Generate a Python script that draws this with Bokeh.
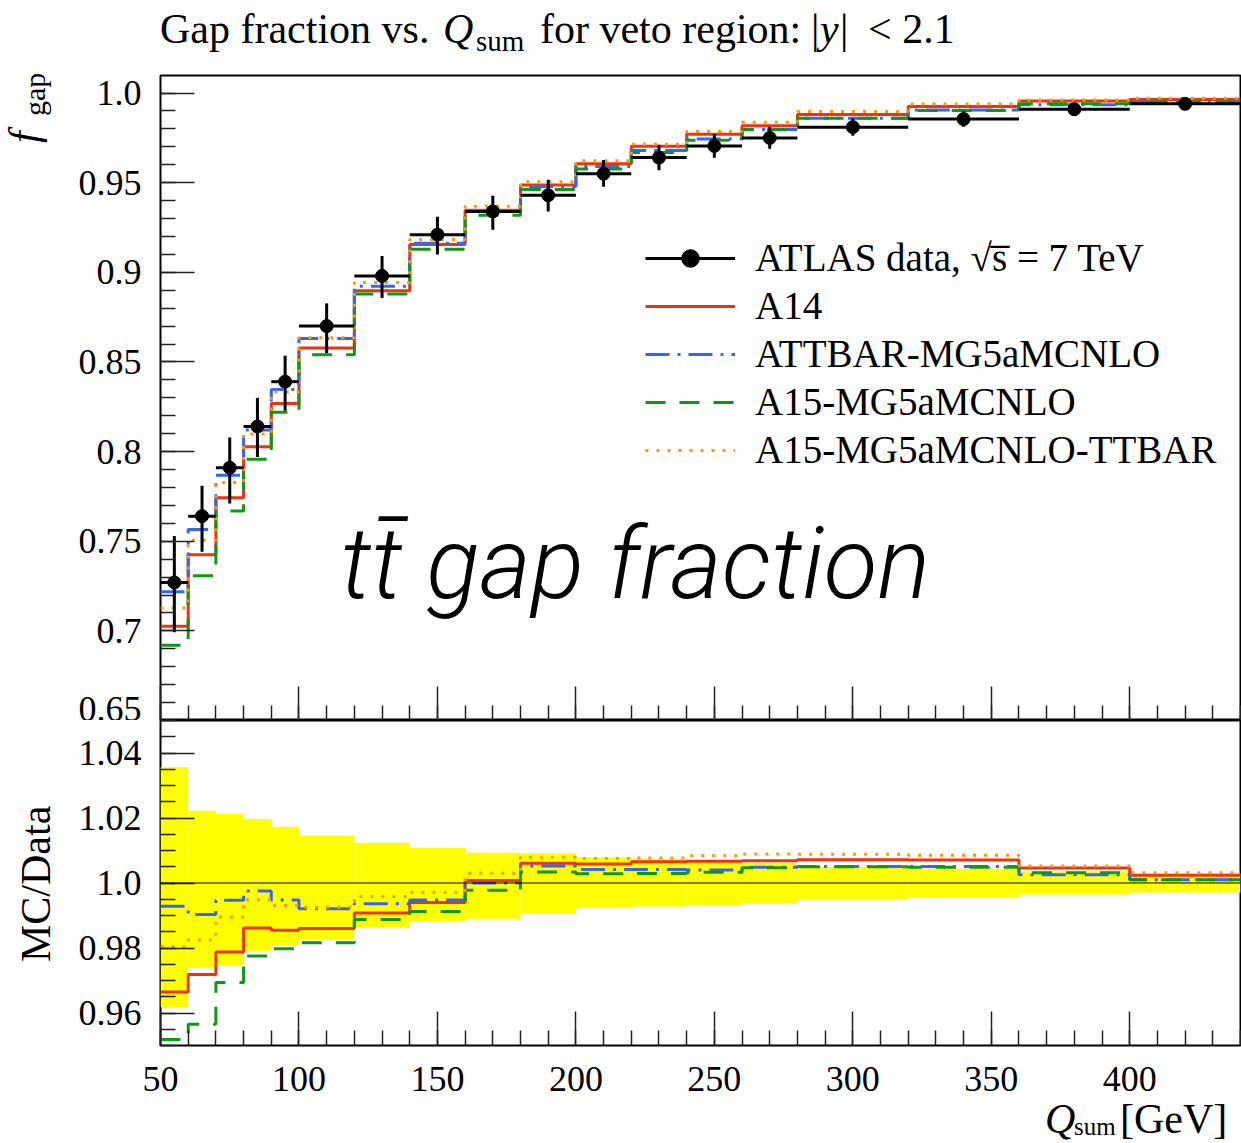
import numpy as np
from bokeh.plotting import figure
from bokeh.layouts import column, row
from bokeh.models import FixedTicker, Label, Legend, LegendItem, Span, Range1d, Div
from bokeh.embed import file_html
from bokeh.resources import INLINE

# Q_sum bin edges [GeV]
edges = [50, 60, 70, 80, 90, 100, 120, 140, 160, 180, 200, 220, 240, 260, 280, 320, 360, 400, 440]

# ATLAS 7 TeV gap fraction with asymmetric uncertainties
data_fgap = [0.727, 0.764, 0.791, 0.814, 0.839, 0.870, 0.898, 0.921, 0.934,
             0.943, 0.955, 0.964, 0.9705, 0.975, 0.981, 0.9855, 0.991, 0.994]
data_err_up = [0.0259, 0.0170, 0.0168, 0.0160, 0.0145, 0.0127, 0.0111, 0.0100, 0.0087,
               0.0086, 0.0076, 0.0072, 0.0066, 0.0061, 0.0048, 0.0043, 0.0035, 0.0029]
data_err_dn = [0.0278, 0.0199, 0.0200, 0.0170, 0.0162, 0.0151, 0.0123, 0.0110, 0.0103,
               0.0090, 0.0072, 0.0070, 0.0066, 0.0061, 0.0048, 0.0043, 0.0035, 0.0029]

# Monte Carlo predictions of the gap fraction
mc_a14 = [0.7026, 0.7425, 0.7742, 0.8027, 0.8268, 0.8578, 0.8897, 0.9155, 0.9347,
          0.9487, 0.9606, 0.9703, 0.9770, 0.9817, 0.9880, 0.9925, 0.9956, 0.9964]
mc_attbar = [0.7218, 0.7566, 0.7868, 0.8120, 0.8346, 0.8631, 0.8923, 0.9162, 0.9340,
             0.9479, 0.9590, 0.9680, 0.9744, 0.9797, 0.9860, 0.9905, 0.9935, 0.9950]
mc_a15 = [0.6920, 0.7308, 0.7668, 0.7957, 0.8220, 0.8540, 0.8879, 0.9129, 0.9319,
          0.9462, 0.9577, 0.9668, 0.9737, 0.9796, 0.9859, 0.9903, 0.9941, 0.9950]
mc_a15_ttbar = [0.7128, 0.7506, 0.7827, 0.8098, 0.8332, 0.8635, 0.8943, 0.9183, 0.9368,
                0.9505, 0.9622, 0.9714, 0.9786, 0.9837, 0.9897, 0.9939, 0.9962, 0.9971]

series_names = ["A14", "ATTBAR-MG5aMCNLO", "A15-MG5aMCNLO", "A15-MG5aMCNLO-TTBAR"]
series_values = [mc_a14, mc_attbar, mc_a15, mc_a15_ttbar]
series_colors = ["#EE3311", "#3366FF", "#109618", "#FF9900"]
series_dashes = ["solid", "24 8 3 8", "20 14", "3 8"]

# axis ticks and their labels
x_ticks = [50, 100, 150, 200, 250, 300, 350, 400]
x_tick_labels = ["50", "100", "150", "200", "250", "300", "350", "400"]
y_ticks = [0.65, 0.7, 0.75, 0.8, 0.85, 0.9, 0.95, 1.0]
y_tick_labels = ["0.65", "0.7", "0.75", "0.8", "0.85", "0.9", "0.95", "1.0"]
r_ticks = [0.96, 0.98, 1.0, 1.02, 1.04]
r_tick_labels = ["0.96", "0.98", "1.0", "1.02", "1.04"]

SERIF = "Liberation Serif"
BAND = "#FFFF00"
ASC = 0.8375  # baseline offset (in em) of a Liberation Serif line box with line-height 1

lo = np.array(edges[:-1], dtype=float)
hi = np.array(edges[1:], dtype=float)
mid = 0.5 * (lo + hi)
dat = np.array(data_fgap)
eup = np.array(data_err_up)
edn = np.array(data_err_dn)

x_minor = [v for v in range(50, 441, 10)]
y_minor = [round(v, 3) for v in np.arange(0.65, 1.0099, 0.01)]
r_minor = [round(v, 4) for v in np.arange(0.95, 1.0501, 0.005)]

x_range = Range1d(50, 440)


def step_y(vals):
    vals = list(vals)
    return vals + [vals[-1]]


def style_frame(p):
    p.grid.visible = False
    p.outline_line_color = "black"
    p.outline_line_width = 2
    p.background_fill_color = "white"
    p.border_fill_color = "white"
    for ax in p.axis:
        ax.axis_line_color = None
        ax.major_tick_in = 34
        ax.major_tick_out = 0
        ax.minor_tick_in = 15
        ax.minor_tick_out = 0
        ax.major_tick_line_color = "#222222"
        ax.minor_tick_line_color = "#222222"
        ax.major_tick_line_width = 1.5
        ax.minor_tick_line_width = 1.5
        ax.major_label_text_font = SERIF
        ax.major_label_text_font_size = "36px"
        ax.major_label_text_color = "black"


def piece(left, baseline, text, size, italic=False, rotate=False):
    """An absolutely placed run of text; for rotated runs `left` is the baseline x
    and `baseline` is the y where the text starts (it reads upwards)."""
    style = ["position:absolute", f"font-size:{size}px", f"line-height:{size}px",
             "white-space:nowrap", f"font-family:'{SERIF}'", "color:black",
             "margin:0", "padding:0"]
    if italic:
        style.append("font-style:italic")
    if rotate:
        style += [f"left:{left - ASC * size:.1f}px", f"top:{baseline:.1f}px",
                  "transform-origin:0 0", "transform:rotate(-90deg)"]
    else:
        style += [f"left:{left:.1f}px", f"top:{baseline - ASC * size:.1f}px"]
    return f"<span style=\"{';'.join(style)}\">{text}</span>"


def text_box(width, height, pieces):
    html = (f"<div style=\"position:relative;width:{width}px;height:{height}px;"
            f"overflow:visible;\">" + "".join(pieces) + "</div>")
    return Div(text=html, width=width, height=height, margin=0,
               styles={"margin": "0", "padding": "0", "overflow": "visible"})


# ---------------- title ----------------
title_div = text_box(1241, 74, [
    piece(160, 43, "Gap fraction vs.", 42),
    piece(443, 43, "Q", 42, italic=True),
    piece(476, 51, "sum", 29),
    piece(540, 43, "for veto region:", 42),
    piece(811, 43, "|", 42),
    piece(820, 43, "y", 42, italic=True),
    piece(840, 43, "|", 42),
    piece(868, 43, "&lt; 2.1", 42),
])

# ---------------- main panel ----------------
top = figure(width=1181, height=646, x_range=x_range, y_range=Range1d(0.65, 1.0098),
             output_backend="svg", toolbar_location=None,
             min_border_left=100, min_border_right=1, min_border_top=1,
             min_border_bottom=0)
style_frame(top)

txa = top.xaxis[0]
txa.ticker = FixedTicker(ticks=x_ticks, minor_ticks=x_minor)
txa.major_label_overrides = {t: "" for t in x_ticks}
txa.major_label_text_font_size = "0px"
txa.major_label_standoff = 0

tya = top.yaxis[0]
tya.ticker = FixedTicker(ticks=y_ticks, minor_ticks=y_minor)
tya.major_label_overrides = dict(zip(y_ticks, y_tick_labels))
tya.major_label_standoff = 19

mc_renderers = []
for name, vals, col, dash in zip(series_names, series_values, series_colors, series_dashes):
    r = top.step(x=edges, y=step_y(vals), mode="after", line_color=col,
                 line_width=3, line_dash=dash)
    mc_renderers.append(r)

hbar = top.segment(x0=lo, y0=dat, x1=hi, y1=dat, line_color="black", line_width=3)
vbar = top.segment(x0=mid, y0=dat - edn, x1=mid, y1=dat + eup, line_color="black",
                   line_width=3)
dots = top.scatter(x=mid, y=dat, size=13, marker="circle", fill_color="black",
                   line_color="black")

items = [LegendItem(label="ATLAS data, \u221as\u0305 = 7 TeV", renderers=[hbar, dots])]
for name, r in zip(series_names, mc_renderers):
    items.append(LegendItem(label=name, renderers=[r]))
legend = Legend(items=items, location=(485, 248), orientation="vertical",
                glyph_width=90, glyph_height=44, label_height=44, spacing=3,
                label_standoff=20, padding=0, margin=0,
                border_line_alpha=0, background_fill_alpha=0,
                label_text_font=SERIF, label_text_font_size="39px",
                label_text_color="black")
top.add_layout(legend)

# process label inside the main panel
top.add_layout(Label(x=280, y=489, x_units="canvas", y_units="canvas",
                     text="tt\u0304 gap fraction", text_font="Roboto Light",
                     text_font_size="99px", text_font_style="italic",
                     text_color="black", text_baseline="alphabetic"))

ylab_top = text_box(60, 646, [
    piece(38, 143 - 74, "f", 42, italic=True, rotate=True),
    piece(45, 116 - 74, "gap", 30, rotate=True),
])

# ---------------- ratio panel ----------------
bot = figure(width=1181, height=391, x_range=x_range, y_range=Range1d(0.95, 1.05),
             output_backend="svg", toolbar_location=None,
             min_border_left=100, min_border_right=1, min_border_top=0,
             min_border_bottom=66)
style_frame(bot)

bxa = bot.xaxis[0]
bxa.ticker = FixedTicker(ticks=x_ticks, minor_ticks=x_minor)
bxa.major_label_overrides = dict(zip(x_ticks, x_tick_labels))
bxa.major_label_standoff = 21

bya = bot.yaxis[0]
bya.ticker = FixedTicker(ticks=r_ticks, minor_ticks=r_minor)
bya.major_label_overrides = dict(zip(r_ticks, r_tick_labels))
bya.major_label_standoff = 19

bot.quad(left=lo, right=hi, bottom=1.0 - edn / dat, top=1.0 + eup / dat,
         fill_color=BAND, line_color=None)
bot.add_layout(Span(location=1.0, dimension="width", line_color="black", line_width=1.2))

for vals, col, dash in zip(series_values, series_colors, series_dashes):
    ratio = np.array(vals) / dat
    bot.step(x=edges, y=step_y(ratio), mode="after", line_color=col, line_width=3,
             line_dash=dash)

ylab_bot = text_box(60, 391, [
    piece(50, 163 + 79, "MC/Data", 42, rotate=True),
])

# x-axis title, kept clear of the bottom edge of the page
xlab_div = text_box(1241, 32, [
    piece(1045, 22, "Q", 42, italic=True),
    piece(1074, 24, "sum", 25),
    piece(1120, 22, "[GeV]", 42),
])

page = column(title_div,
              row(ylab_top, top, spacing=0),
              row(ylab_bot, bot, spacing=0),
              xlab_div, spacing=0)
open("out.html", "w").write(file_html(page, INLINE))
